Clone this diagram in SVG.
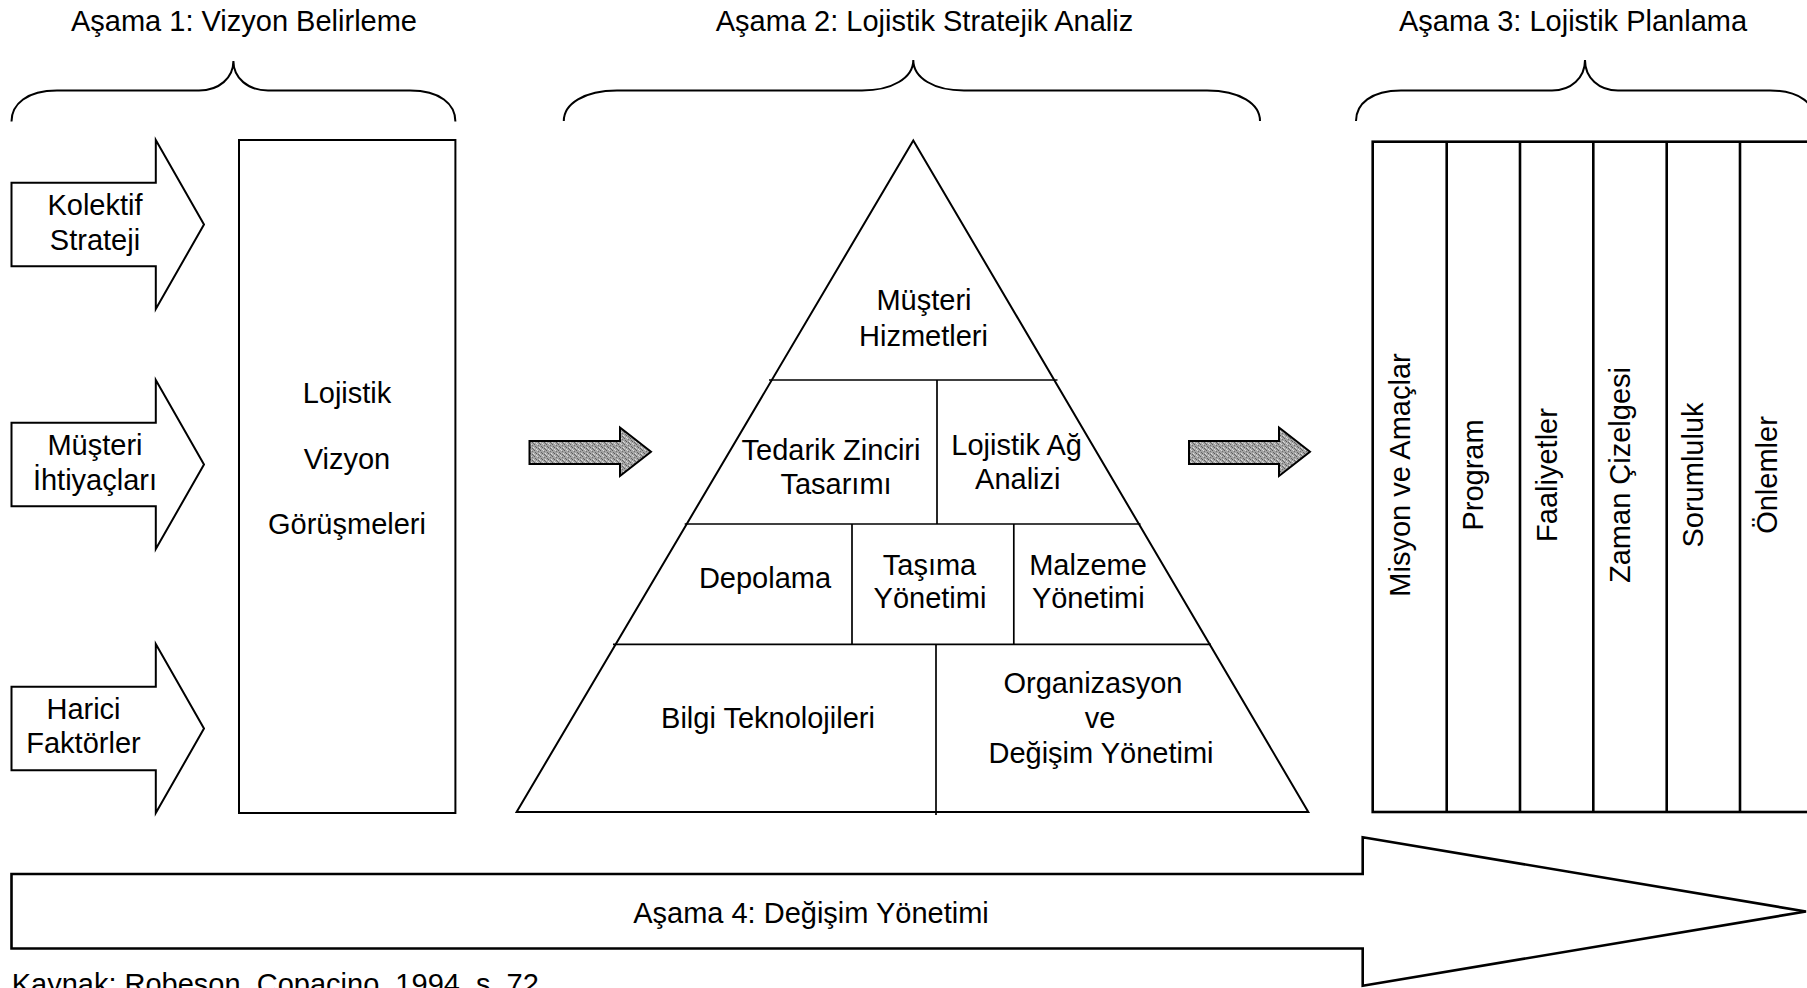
<svg xmlns="http://www.w3.org/2000/svg" width="1807" height="988" viewBox="0 0 1807 988">
  <style>
    text { font-family: "Liberation Sans", Arial, sans-serif; font-size: 29px; fill: #000; text-anchor: middle; }
    .start { text-anchor: start; }
    .shape { fill: #fff; stroke: #000; stroke-width: 2; stroke-linejoin: miter; }
    .brace { fill: none; stroke: #000; stroke-width: 2; }
    .div { stroke: #000; stroke-width: 1.7; fill: none; }
    .cols { fill: #fff; stroke: #000; stroke-width: 2.6; }
    .colline { stroke: #000; stroke-width: 2.6; }
    .big { fill: #fff; stroke: #000; stroke-width: 2.6; stroke-linejoin: miter; }
    .flow { fill: url(#stipple); stroke: #000; stroke-width: 2; stroke-linejoin: miter; }
  </style>
  <defs>
    <!-- dithered grey fill for the block arrows between the stages -->
    <pattern id="stipple" width="6" height="6" patternUnits="userSpaceOnUse">
      <rect width="6" height="6" fill="#a4a4a4"/>
      <rect x="0" y="0" width="1" height="1" fill="#5e5e5e"/>
      <rect x="3" y="0" width="1" height="1" fill="#d8d8d8"/>
      <rect x="1" y="2" width="1" height="1" fill="#666"/>
      <rect x="4" y="1" width="1" height="1" fill="#707070"/>
      <rect x="5" y="3" width="1" height="1" fill="#e2e2e2"/>
      <rect x="2" y="3" width="1" height="1" fill="#5a5a5a"/>
      <rect x="0" y="4" width="1" height="1" fill="#d0d0d0"/>
      <rect x="4" y="4" width="1" height="1" fill="#626262"/>
      <rect x="2" y="5" width="1" height="1" fill="#dcdcdc"/>
      <rect x="5" y="5" width="1" height="1" fill="#6a6a6a"/>
    </pattern>
  </defs>

  <rect width="1807" height="988" fill="#fff"/>

  <!-- stage headings with curly braces -->
  <g id="stage1-heading">
    <text x="244" y="31">Aşama 1: Vizyon Belirleme</text>
    <path class="brace" d="M11.5,121.5 C11.5,104 27,90.5 57,90.5 L199,90.5 C219,90.5 233.4,78 233.4,61 C233.4,78 248,90.5 268,90.5 L410,90.5 C440,90.5 455.4,104 455.4,121.5"/>
  </g>
  <g id="stage2-heading">
    <text x="924.5" y="31">Aşama 2: Lojistik Stratejik Analiz</text>
    <path class="brace" d="M563.8,121 C563.8,104 584,90.5 617,90.5 L862,90.5 C892,90.5 913.3,78 913.3,60 C913.3,78 934,90.5 964,90.5 L1207,90.5 C1240,90.5 1260,104 1260,121"/>
  </g>
  <g id="stage3-heading">
    <text x="1573" y="31">Aşama 3: Lojistik Planlama</text>
    <path class="brace" d="M1356,121 C1356,104 1371,90.5 1401,90.5 L1552,90.5 C1571,90.5 1585,78 1585,60 C1585,78 1599,90.5 1618,90.5 L1770,90.5 C1800,90.5 1815,104 1815,121"/>
  </g>

  <!-- stage 1 inputs -->
  <g id="input-kolektif-strateji">
    <polygon class="shape" points="11.5,182.7 155.8,182.7 155.8,140 204,224.5 155.8,309 155.8,266.3 11.5,266.3"/>
    <text x="95" y="215">Kolektif</text>
    <text x="95" y="250">Strateji</text>
  </g>
  <g id="input-musteri-ihtiyaclari">
    <polygon class="shape" points="11.5,422.7 155.8,422.7 155.8,380 204,464.5 155.8,549 155.8,506.3 11.5,506.3"/>
    <text x="95" y="455">Müşteri</text>
    <text x="95" y="490">İhtiyaçları</text>
  </g>
  <g id="input-harici-faktorler">
    <polygon class="shape" points="11.5,686.7 155.8,686.7 155.8,644 204,728.5 155.8,813 155.8,770.3 11.5,770.3"/>
    <text x="83.5" y="719">Harici</text>
    <text x="83.5" y="753">Faktörler</text>
  </g>

  <!-- stage 1 box -->
  <g id="vizyon-gorusmeleri">
    <rect class="shape" x="239" y="140" width="216.4" height="673"/>
    <text x="347" y="403">Lojistik</text>
    <text x="347" y="468.5">Vizyon</text>
    <text x="347" y="534">Görüşmeleri</text>
  </g>

  <!-- stage 2 pyramid -->
  <g id="strategic-pyramid">
    <polygon class="shape" points="913.3,140.5 1308.3,812 516.6,812"/>
    <line class="div" x1="769" y1="380" x2="1057.5" y2="380"/>
    <line class="div" x1="684.7" y1="524" x2="1140.5" y2="524"/>
    <line class="div" x1="613" y1="644.3" x2="1211" y2="644.3"/>
    <line class="div" x1="937" y1="380" x2="937" y2="524"/>
    <line class="div" x1="852" y1="524" x2="852" y2="644.3"/>
    <line class="div" x1="1013.8" y1="524" x2="1013.8" y2="644.3"/>
    <line class="div" x1="936" y1="644.3" x2="936" y2="815"/>
  </g>
  <g id="musteri-hizmetleri">
    <text x="924" y="310">Müşteri</text>
    <text x="923.5" y="346">Hizmetleri</text>
  </g>
  <g id="tedarik-zinciri-tasarimi">
    <text x="831" y="460">Tedarik Zinciri</text>
    <text x="836" y="494">Tasarımı</text>
  </g>
  <g id="lojistik-ag-analizi">
    <text x="1016.6" y="455">Lojistik Ağ</text>
    <text x="1017.8" y="489.3">Analizi</text>
  </g>
  <g id="depolama">
    <text x="765" y="588.3">Depolama</text>
  </g>
  <g id="tasima-yonetimi">
    <text x="929.5" y="575">Taşıma</text>
    <text x="930" y="608.3">Yönetimi</text>
  </g>
  <g id="malzeme-yonetimi">
    <text x="1088" y="575">Malzeme</text>
    <text x="1088.3" y="608.3">Yönetimi</text>
  </g>
  <g id="bilgi-teknolojileri">
    <text x="768" y="728.3">Bilgi Teknolojileri</text>
  </g>
  <g id="organizasyon-degisim">
    <text x="1093" y="693.3">Organizasyon</text>
    <text x="1100" y="728.3">ve</text>
    <text x="1101" y="763.3">Değişim Yönetimi</text>
  </g>

  <!-- stage 3 planning columns -->
  <g id="planning-columns">
    <rect class="cols" x="1372.7" y="141.7" width="440" height="670.3"/>
    <line class="colline" x1="1446.7" y1="141.7" x2="1446.7" y2="812"/>
    <line class="colline" x1="1520" y1="141.7" x2="1520" y2="812"/>
    <line class="colline" x1="1593.3" y1="141.7" x2="1593.3" y2="812"/>
    <line class="colline" x1="1666.7" y1="141.7" x2="1666.7" y2="812"/>
    <line class="colline" x1="1740" y1="141.7" x2="1740" y2="812"/>
  </g>
  <g id="col-misyon"><text transform="translate(1410,475) rotate(-90)">Misyon ve Amaçlar</text></g>
  <g id="col-program"><text transform="translate(1483.3,475) rotate(-90)">Program</text></g>
  <g id="col-faaliyetler"><text transform="translate(1556.7,475) rotate(-90)">Faaliyetler</text></g>
  <g id="col-zaman"><text transform="translate(1630,475) rotate(-90)">Zaman Çizelgesi</text></g>
  <g id="col-sorumluluk"><text transform="translate(1703.3,475) rotate(-90)">Sorumluluk</text></g>
  <g id="col-onlemler"><text transform="translate(1776.7,475) rotate(-90)">Önlemler</text></g>

  <!-- block arrows linking the stages -->
  <g id="connectors">
    <polygon class="flow" points="529.5,441 620,441 620,427.5 651,451.7 620,476 620,464 529.5,464"/>
    <polygon class="flow" points="1189,441 1279,441 1279,427.5 1310,451.7 1279,476 1279,464 1189,464"/>
  </g>

  <!-- stage 4 spanning arrow -->
  <g id="stage4-degisim-yonetimi">
    <polygon class="big" points="11.5,874 1362.7,874 1362.7,837.3 1806,911.5 1362.7,985.7 1362.7,948.5 11.5,948.5"/>
    <text x="811" y="922.5">Aşama 4: Değişim Yönetimi</text>
  </g>

  <!-- source note -->
  <g id="source-note">
    <text class="start" x="11.7" y="994">Kaynak: Robeson, Copacino, 1994, s. 72</text>
  </g>
</svg>
